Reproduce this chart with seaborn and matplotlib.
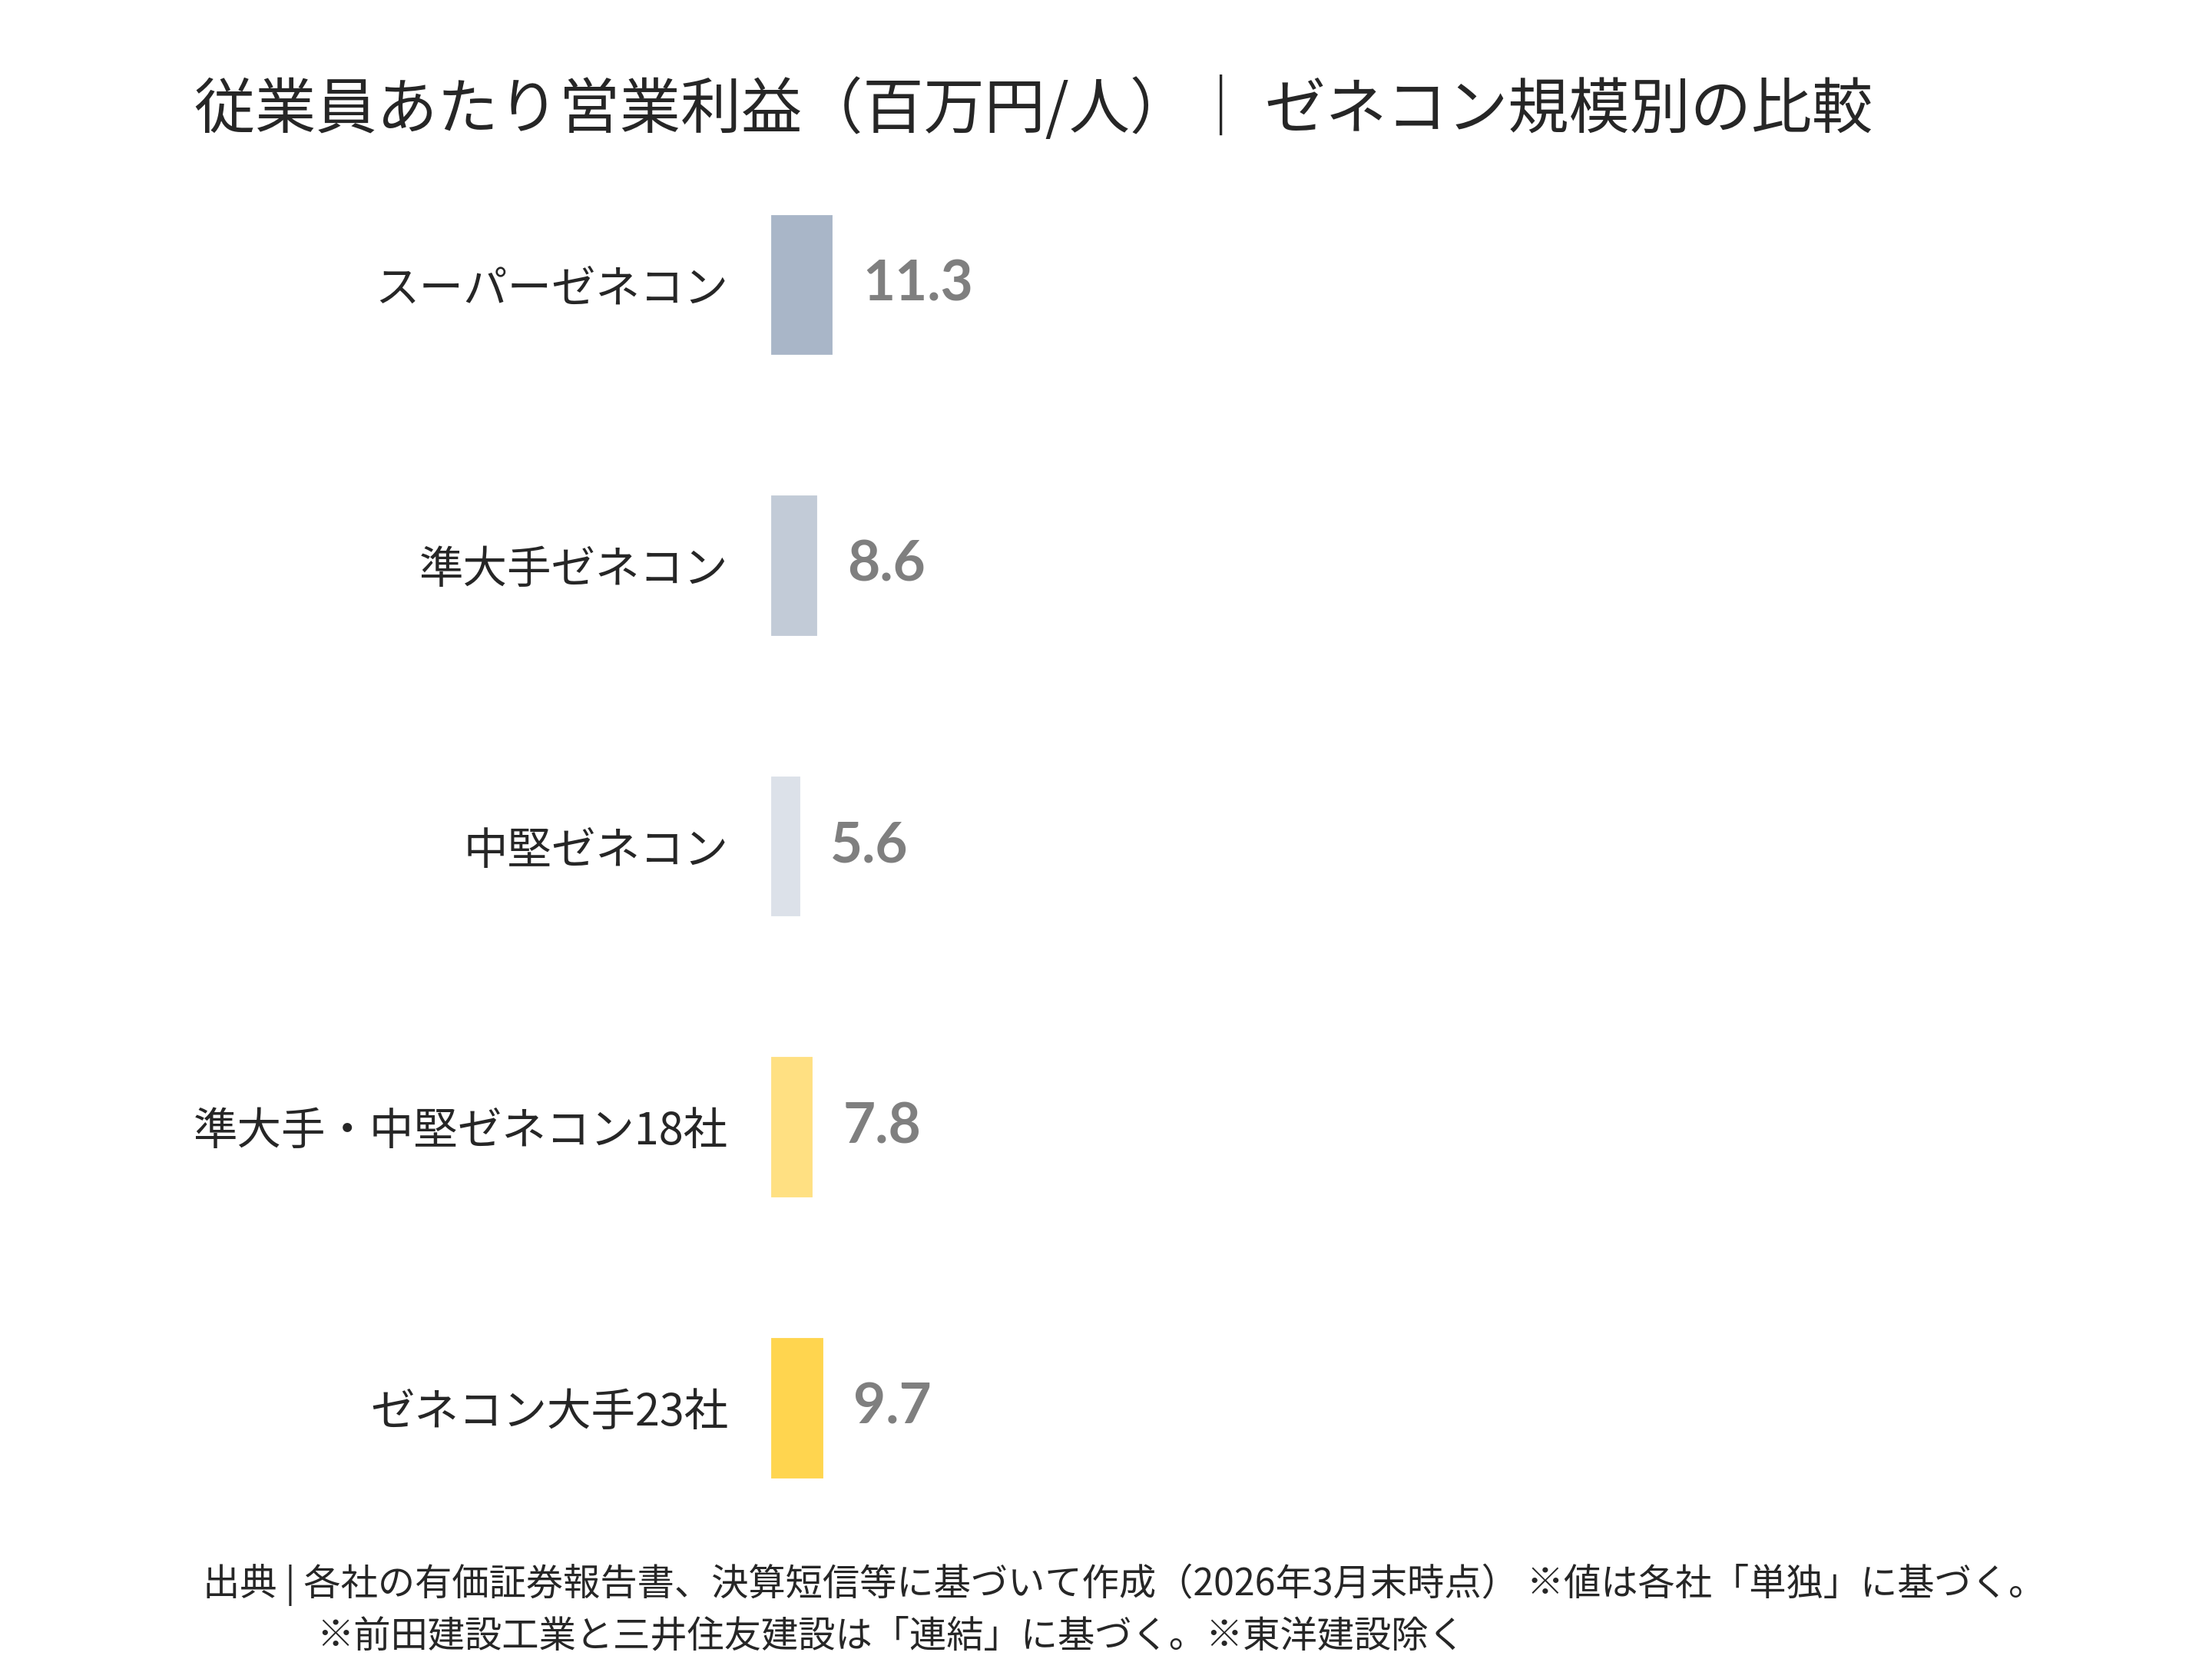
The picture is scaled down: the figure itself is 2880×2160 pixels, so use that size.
import numpy as np
import pandas as pd
import seaborn as sns
import matplotlib.pyplot as plt

# data
categories = ["スーパーゼネコン", "準大手ゼネコン", "中堅ゼネコン",
              "準大手・中堅ゼネコン18社", "ゼネコン大手23社"]
values = [11.3, 8.6, 5.6, 7.8, 9.7]
colors = ["#A9B6C8", "#C2CBD7", "#DCE1E9", "#FFE082", "#FFD54F"]

title = "従業員あたり営業利益（百万円/人）｜ ゼネコン規模別の比較"
note1 = "出典 | 各社の有価証券報告書、決算短信等に基づいて作成（2026年3月末時点） ※値は各社「単独」に基づく。"
note2 = "※前田建設工業と三井住友建設は「連結」に基づく。※東洋建設除く"

df = pd.DataFrame({"category": categories, "value": values})

sns.set_theme(style="white")
plt.rcParams['font.family'] = ['Noto Sans CJK JP', 'DejaVu Sans']

fig = plt.figure(figsize=(9.6, 7.2), dpi=300)
ax = fig.add_axes([0.348, 0.0666, 0.572, 0.8464])

sns.barplot(data=df, y="category", x="value", hue="category", palette=colors,
            orient="h", width=0.51, legend=False, saturation=1, ax=ax)

ax.set_xlim(0, 223)
ax.set_xlabel("")
ax.set_ylabel("")
ax.set_xticks([])
sns.despine(ax=ax, left=True, bottom=True)
ax.tick_params(axis="y", length=0, pad=13, labelsize=13.8, labelcolor="#262626")

# value labels
for cont in ax.containers:
    ax.bar_label(cont, fmt="%.1f", padding=9, fontsize=17.5, fontweight="bold",
                 color="#7F7F7F", family=["Lato", "DejaVu Sans"])

fig.text(0.088, 0.934, title, fontsize=19, color="#262626", va="center", ha="left")
fig.text(0.0915, 0.0447, note1, fontsize=11.6, color="#262626", va="center", ha="left")
fig.text(0.143, 0.0137, note2, fontsize=11.6, color="#262626", va="center", ha="left")

fig.savefig("out.png", dpi=300)
plt.close(fig)
